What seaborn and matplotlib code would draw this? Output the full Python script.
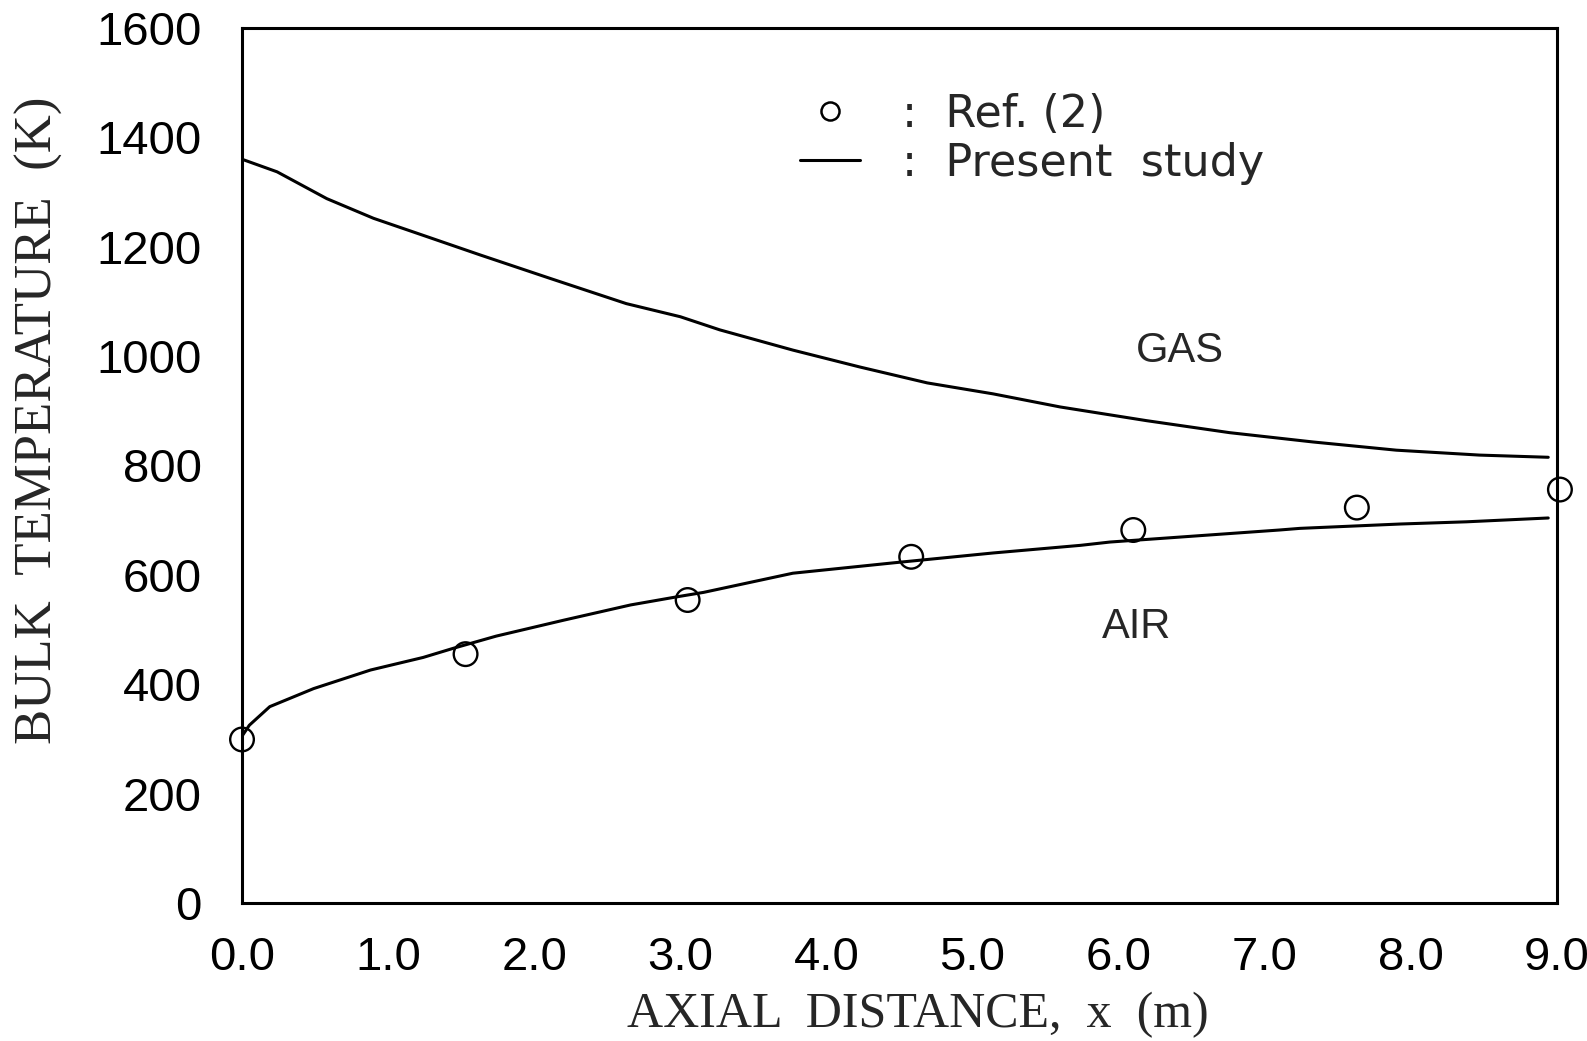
import matplotlib
matplotlib.use("Agg")
import matplotlib.pyplot as plt
from matplotlib.lines import Line2D
from matplotlib.ticker import MultipleLocator, FormatStrFormatter
import seaborn as sns

# Bulk temperature profiles along the heat exchanger
gas_x = [0.0, 0.24, 0.58, 0.90, 1.26, 1.63, 2.11, 2.63, 3.00, 3.27, 3.77,
         4.23, 4.69, 5.14, 5.60, 6.19, 6.76, 7.33, 7.90, 8.47, 8.94]
gas_t = [1360, 1337, 1288, 1252, 1219, 1185, 1142, 1096, 1072, 1048, 1011,
         980, 951, 931, 907, 882, 860, 843, 828, 819, 815]

air_x = [0.0, 0.05, 0.19, 0.49, 0.88, 1.24, 1.45, 1.74, 2.20, 2.66, 2.98,
         3.16, 3.77, 4.46, 5.14, 5.74, 5.94, 7.10, 7.24, 7.93, 8.38, 8.94]
air_t = [305, 325, 359, 392, 426, 449, 466, 488, 517, 545, 560,
         568, 603, 622, 640, 654, 660, 682, 685, 693, 697, 704]

# Reference measurements (air side)
ref_x = [0.0, 1.53, 3.05, 4.58, 6.10, 7.63, 9.02]
ref_t = [299, 455, 554, 633, 682, 723, 756]

x_ticks = [0, 1, 2, 3, 4, 5, 6, 7, 8, 9]
y_ticks = [0, 200, 400, 600, 800, 1000, 1200, 1400, 1600]

sns.set_style("white")
plt.rcParams["font.family"] = ["Liberation Sans", "DejaVu Sans"]

fig = plt.figure(figsize=(15.87, 10.41), dpi=100)
ax = fig.add_axes([0.1525, 0.1326, 0.8286, 0.8405])

lw = 2.2
sns.lineplot(x=gas_x, y=gas_t, ax=ax, color="black", lw=lw, sort=False)
sns.lineplot(x=air_x, y=air_t, ax=ax, color="black", lw=lw, sort=False)
sns.scatterplot(x=ref_x, y=ref_t, ax=ax, marker="o", s=290, linewidth=1.7,
                zorder=5, clip_on=False)
pts = ax.collections[-1]
pts.set_facecolor("none")
pts.set_edgecolor("black")

ax.set_xlim(0, 9)
ax.set_ylim(0, 1600)
ax.set_xticks(x_ticks)
ax.set_yticks(y_ticks)
ax.xaxis.set_major_formatter(FormatStrFormatter("%.1f"))
ax.xaxis.set_minor_locator(MultipleLocator(0.5))
ax.yaxis.set_minor_locator(MultipleLocator(100))

for side in ["left", "right", "top", "bottom"]:
    ax.spines[side].set_visible(True)
    ax.spines[side].set_color("black")
    ax.spines[side].set_linewidth(2.2)

ax.tick_params(axis="both", which="both", direction="out", color="black",
               width=2.0, labelsize=34, labelcolor="black",
               top=False, right=False)
ax.tick_params(axis="x", which="major", length=19, pad=5)
ax.tick_params(axis="x", which="minor", length=13)
ax.tick_params(axis="y", which="major", length=17, pad=12)
ax.tick_params(axis="y", which="minor", length=12)

serif = ["Liberation Serif", "DejaVu Serif"]
ax.set_xlabel("AXIAL  DISTANCE,  x  (m)", fontsize=36, family=serif)
ax.set_ylabel("BULK  TEMPERATURE  (K)", fontsize=38, family=serif)
ax.xaxis.set_label_coords(0.514, -0.101)
ax.yaxis.set_label_coords(-0.136, 0.552)

ax.text(6.42, 1009, "GAS", fontsize=30, ha="center", va="center")
ax.text(6.12, 505, "AIR", fontsize=30, ha="center", va="center")

handles = [
    Line2D([], [], ls="none", marker="o", ms=13, mfc="none", mec="black", mew=1.8),
    Line2D([], [], color="black", lw=lw),
]
ax.legend(handles, [":  Ref. (2)", ":  Present  study"], loc="upper left",
          bbox_to_anchor=(0.4244, 0.926), frameon=False,
          prop={"family": ["DejaVu Sans"], "size": 32},
          borderpad=0, borderaxespad=0, handlelength=1.35, handletextpad=0.95,
          labelspacing=0.13)

fig.savefig("out.png", dpi=100, facecolor="white")
